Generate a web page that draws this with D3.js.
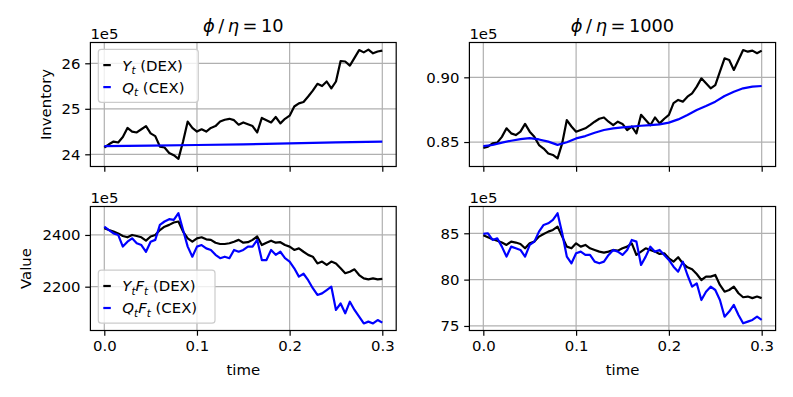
<!DOCTYPE html>
<html>
<head>
<meta charset="utf-8">
<script src="https://cdn.jsdelivr.net/npm/d3@7"></script>
<style>
	body { margin: 0; background: #fff; }
	svg { font-family: "DejaVu Sans", sans-serif; }
</style>
</head>
<body>
<div id="chartDiv"></div>
<script>
// all values in units of 1e5, sampled every 0.005 in time
var timeGrid = d3.range(61).map(function(i) { return i * 0.005; });

// inventory, phi/eta = 10
var dexInvLow = [24.15, 24.22, 24.28, 24.26, 24.38, 24.58, 24.5, 24.48, 24.55, 24.62,
	24.46, 24.4, 24.17, 24.15, 24.03, 23.98, 23.9, 24.28, 24.72, 24.58,
	24.5, 24.55, 24.5, 24.58, 24.62, 24.72, 24.76, 24.78, 24.75, 24.65,
	24.7, 24.66, 24.62, 24.48, 24.8, 24.75, 24.7, 24.82, 24.68, 24.78,
	24.85, 25.05, 25.12, 25.15, 25.27, 25.4, 25.55, 25.5, 25.6, 25.45,
	25.6, 26.05, 26.04, 25.95, 26.12, 26.29, 26.24, 26.3, 26.22, 26.26, 26.28];
var cexTimesLow = [0, 0.05, 0.1, 0.15, 0.2, 0.25, 0.3];
var cexInvLow = [24.18, 24.19, 24.205, 24.22, 24.24, 24.26, 24.28];

// inventory, phi/eta = 1000
var dexInvHigh = [0.8455, 0.8464, 0.849, 0.8495, 0.854, 0.8606, 0.8567, 0.8554, 0.858, 0.864,
	0.858, 0.854, 0.8477, 0.845, 0.8412, 0.84, 0.8374, 0.849, 0.867, 0.862,
	0.858, 0.8593, 0.8606, 0.863, 0.8657, 0.868, 0.869, 0.8657, 0.863, 0.8657,
	0.864, 0.8593, 0.862, 0.8567, 0.871, 0.867, 0.863, 0.869, 0.8644, 0.868,
	0.871, 0.88, 0.8825, 0.8812, 0.885, 0.8876, 0.8928, 0.8992, 0.8954, 0.8915,
	0.894, 0.9044, 0.9147, 0.9134, 0.9057, 0.9134, 0.9211, 0.9198, 0.9206, 0.9186, 0.9206];
var cexTimesHigh = [0, 0.01, 0.02, 0.03, 0.04, 0.05, 0.06, 0.07, 0.08, 0.09,
	0.1, 0.11, 0.12, 0.13, 0.14, 0.15, 0.16, 0.17, 0.18, 0.19,
	0.2, 0.21, 0.22, 0.23, 0.24, 0.25, 0.26, 0.27, 0.28, 0.29, 0.3];
var cexInvHigh = [0.8469, 0.8477, 0.8495, 0.851, 0.8522, 0.853, 0.852, 0.8503, 0.8478, 0.8498,
	0.8528, 0.8546, 0.8572, 0.8593, 0.8606, 0.8613, 0.8619, 0.8626, 0.8631, 0.8637,
	0.865, 0.8675, 0.8709, 0.8747, 0.8778, 0.8812, 0.8856, 0.8889, 0.8915, 0.8928, 0.8933];

// value, phi/eta = 10
var dexValLow = [2426, 2419, 2413, 2406, 2396, 2391, 2400, 2396, 2391, 2378,
	2394, 2400, 2419, 2432, 2439, 2448, 2452, 2413, 2387, 2374,
	2387, 2391, 2383, 2381, 2370, 2365, 2365, 2368, 2374, 2381,
	2370, 2372, 2381, 2394, 2361, 2370, 2378, 2370, 2372, 2361,
	2355, 2342, 2348, 2335, 2323, 2316, 2290, 2297, 2284, 2297,
	2290, 2271, 2252, 2258, 2267, 2245, 2232, 2228, 2232, 2228, 2230];
var cexValLow = [2432, 2419, 2406, 2400, 2355, 2374, 2387, 2368, 2361, 2335,
	2374, 2381, 2439, 2452, 2461, 2458, 2484, 2419, 2355, 2316,
	2355, 2361, 2348, 2342, 2323, 2310, 2316, 2310, 2342, 2335,
	2342, 2355, 2355, 2381, 2303, 2303, 2342, 2323, 2335, 2310,
	2297, 2271, 2239, 2250, 2225, 2194, 2168, 2174, 2187, 2200,
	2110, 2135, 2097, 2142, 2110, 2084, 2058, 2065, 2058, 2071, 2061];

// value, phi/eta = 1000
var dexValHigh = [84.8, 84.57, 84.35, 84.2, 84.0, 83.74, 84.1, 84.0, 83.85, 83.38,
	83.92, 84.1, 84.64, 84.93, 85.18, 85.36, 85.72, 84.64, 83.56, 83.38,
	83.92, 83.56, 83.74, 83.38, 83.2, 83.02, 82.91, 83.02, 83.2, 83.13,
	83.38, 83.56, 83.92, 82.66, 83.02, 83.38, 83.2, 83.02, 82.77, 82.84,
	82.3, 81.94, 82.41, 81.76, 81.33, 81.12, 80.61, 79.96, 80.32, 80.32,
	80.5, 79.42, 78.7, 78.88, 79.24, 78.53, 78.1, 78.17, 78.0, 78.17, 78.0];
var cexValHigh = [84.93, 85.0, 84.28, 84.46, 83.56, 82.48, 83.56, 83.38, 83.2, 82.48,
	83.74, 84.1, 85.18, 85.9, 86.08, 86.44, 87.16, 85.0, 82.48, 81.76,
	82.84, 83.02, 82.66, 82.66, 81.94, 81.76, 81.94, 82.66, 83.2, 83.02,
	82.66, 83.2, 84.28, 84.1, 81.58, 82.48, 83.56, 83.02, 83.2, 82.66,
	82.12, 81.4, 80.86, 81.94, 80.5, 79.24, 79.6, 77.8, 78.7, 79.24,
	78.88, 77.8, 76.0, 76.55, 77.27, 76.19, 75.29, 75.47, 75.65, 76.0, 75.65];

var xTicks = [0, 0.1, 0.2, 0.3];
var ratioLabels = ["10", "1000"];

;(function() {

	var width = 793;
	var height = 397;
	var fontSize = 14.9;
	var gridColor = "#b0b0b0";
	var lineWidth = 2.2;

	var cols = [{ x0: 90.4, x1: 396.2 }, { x0: 469.4, x1: 775.6 }];
	var rows = [{ y0: 42.5, y1: 166.5 }, { y0: 206.5, y1: 330.5 }];

	var panels = [
		{ col: 0, row: 0, yDomain: [23.732, 26.457], yTicks: [24, 25, 26], fmt: d3.format("d"),
			yLabel: "Inventory", yLabelX: 51, title: ratioLabels[0],
			series: [
				{ t: timeGrid, v: dexInvLow, color: "#000000" },
				{ t: cexTimesLow, v: cexInvLow, color: "#0000ff" }
			],
			legend: { y: 49.3, w: 100, labels: [[["Y", 1, 0], ["t", 1, 1], [" (DEX)", 0, 0]], [["Q", 1, 0], ["t", 1, 1], [" (CEX)", 0, 0]]] } },
		{ col: 1, row: 0, yDomain: [0.8311, 0.9269], yTicks: [0.85, 0.90], fmt: d3.format(".2f"),
			title: ratioLabels[1],
			series: [
				{ t: timeGrid, v: dexInvHigh, color: "#000000" },
				{ t: cexTimesHigh, v: cexInvHigh, color: "#0000ff" }
			] },
		{ col: 0, row: 1, yDomain: [2030.6, 2510], yTicks: [2200, 2400], fmt: d3.format("d"),
			yLabel: "Value", yLabelX: 30.5,
			series: [
				{ t: timeGrid, v: dexValLow, color: "#000000" },
				{ t: timeGrid, v: cexValLow, color: "#0000ff" }
			],
			legend: { y: 270.2, w: 116.7, labels: [[["Y", 1, 0], ["t", 1, 1], ["F", 1, 0], ["t", 1, 1], [" (DEX)", 0, 0]], [["Q", 1, 0], ["t", 1, 1], ["F", 1, 0], ["t", 1, 1], [" (CEX)", 0, 0]]] } },
		{ col: 1, row: 1, yDomain: [74.51, 87.89], yTicks: [75, 80, 85], fmt: d3.format("d"),
			series: [
				{ t: timeGrid, v: dexValHigh, color: "#000000" },
				{ t: timeGrid, v: cexValHigh, color: "#0000ff" }
			] }
	];

	var svg = d3.select("#chartDiv").append("svg")
		.attr("width", width)
		.attr("height", height);

	panels.forEach(function(p, idx) { drawPanel(p, idx); });

	function drawPanel(p, idx) {
		var c = cols[p.col];
		var r = rows[p.row];

		var xScale = d3.scaleLinear().domain([-0.015, 0.315]).range([c.x0, c.x1]);
		var yScale = d3.scaleLinear().domain(p.yDomain).range([r.y1, r.y0]);

		var g = svg.append("g");

		// grid
		g.append("g").selectAll("line").data(xTicks).enter().append("line")
			.attr("x1", function(d) { return xScale(d); })
			.attr("x2", function(d) { return xScale(d); })
			.attr("y1", r.y0).attr("y2", r.y1)
			.style("stroke", gridColor).style("stroke-width", 1.2);
		g.append("g").selectAll("line").data(p.yTicks).enter().append("line")
			.attr("y1", function(d) { return yScale(d); })
			.attr("y2", function(d) { return yScale(d); })
			.attr("x1", c.x0).attr("x2", c.x1)
			.style("stroke", gridColor).style("stroke-width", 1.2);

		// lines
		var clipId = "clip" + idx;
		g.append("clipPath").attr("id", clipId).append("rect")
			.attr("x", c.x0).attr("y", r.y0).attr("width", c.x1 - c.x0).attr("height", r.y1 - r.y0);

		p.series.forEach(function(s) {
			var pts = s.v.map(function(v, i) { return [s.t[i], v]; });
			var line = d3.line()
				.x(function(d) { return xScale(d[0]); })
				.y(function(d) { return yScale(d[1]); });
			g.append("path")
				.datum(pts)
				.attr("clip-path", "url(#" + clipId + ")")
				.attr("d", line)
				.style("fill", "none")
				.style("stroke", s.color)
				.style("stroke-width", lineWidth)
				.style("stroke-linejoin", "round");
		});

		// axes
		var xAxis = d3.axisBottom(xScale).tickValues(xTicks).tickSize(5.2).tickPadding(4.6)
			.tickFormat(p.row === 1 ? d3.format(".1f") : function() { return ""; });
		var xg = g.append("g")
			.attr("transform", "translate(0," + r.y1 + ")")
			.call(xAxis);
		var yAxis = d3.axisLeft(yScale).tickValues(p.yTicks).tickSize(5.2).tickPadding(4.8)
			.tickFormat(p.fmt);
		var yg = g.append("g")
			.attr("transform", "translate(" + c.x0 + ",0)")
			.call(yAxis);
		[xg, yg].forEach(function(ax) {
			ax.select(".domain").remove();
			ax.selectAll("line").style("stroke", "#000").style("stroke-width", 1.2);
			ax.selectAll("text").style("font-size", fontSize + "px").style("fill", "#000")
				.attr("font-family", "DejaVu Sans");
		});

		// spines
		g.append("rect")
			.attr("x", c.x0).attr("y", r.y0)
			.attr("width", c.x1 - c.x0).attr("height", r.y1 - r.y0)
			.style("fill", "none").style("stroke", "#000").style("stroke-width", 1.2);

		// offset text
		g.append("text")
			.attr("x", c.x0).attr("y", r.y0 - 3.8)
			.style("font-size", fontSize + "px")
			.text("1e5");

		if (p.row === 1) {
			g.append("text")
				.attr("x", (c.x0 + c.x1) / 2).attr("y", 375)
				.attr("text-anchor", "middle")
				.style("font-size", fontSize + "px")
				.text("time");
		}

		if (p.yLabel) {
			g.append("text")
				.attr("text-anchor", "middle")
				.attr("transform", "translate(" + p.yLabelX + "," + ((r.y0 + r.y1) / 2) + ") rotate(-90)")
				.style("font-size", fontSize + "px")
				.text(p.yLabel);
		}

		if (p.title) {
			var tt = g.append("text")
				.attr("x", (c.x0 + c.x1) / 2).attr("y", 31.5)
				.attr("text-anchor", "middle")
				.style("font-size", "17.8px");
			tt.append("tspan").style("font-style", "italic").text("\u03d5");
			tt.append("tspan").text("\u2009/\u2009");
			tt.append("tspan").style("font-style", "italic").text("\u03b7");
			tt.append("tspan").text("\u2009=\u2009" + p.title);
		}

		if (p.legend) drawLegend(g, c.x0 + 7.9, p.legend, p.series);
	}

	function drawLegend(g, lx, lg, series) {
		g.append("rect")
			.attr("x", lx).attr("y", lg.y)
			.attr("width", lg.w).attr("height", 53)
			.attr("rx", 3)
			.style("fill", "#fff").style("fill-opacity", 0.8)
			.style("stroke", "#cccccc").style("stroke-width", 1.2);

		lg.labels.forEach(function(parts, i) {
			var cy = lg.y + 15.8 + i * 22;
			g.append("line")
				.attr("x1", lx + 5).attr("x2", lx + 12.5)
				.attr("y1", cy).attr("y2", cy)
				.style("stroke", series[i].color).style("stroke-width", lineWidth);
			var txt = g.append("text")
				.attr("x", lx + 24).attr("y", cy + 5.4)
				.style("font-size", fontSize + "px");
			var shift = 0;
			parts.forEach(function(pt) {
				var dy = (pt[2] ? 3.2 : 0) - shift;
				shift = pt[2] ? 3.2 : 0;
				txt.append("tspan")
					.attr("dy", dy)
					.style("font-style", pt[1] ? "italic" : "normal")
					.style("font-size", pt[2] ? (fontSize * 0.7) + "px" : fontSize + "px")
					.text(pt[0]);
			});
		});
	}

})();
</script>
</body>
</html>
